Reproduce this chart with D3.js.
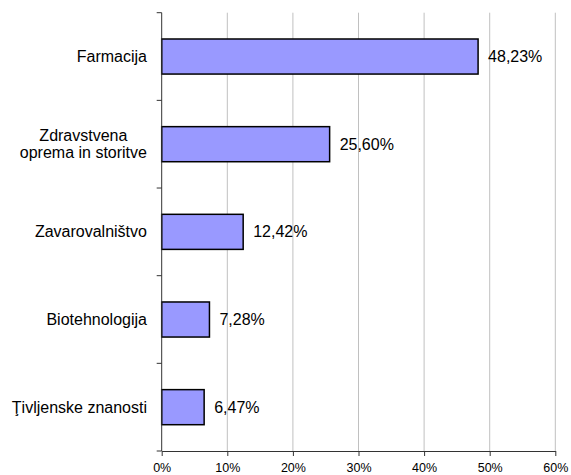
<!DOCTYPE html>
<html><head><meta charset="utf-8">
<script src="https://cdn.jsdelivr.net/npm/d3@7"></script>
<style>body{margin:0;background:#fff;} text{font-family:"Liberation Sans",Arial,sans-serif;}</style>
</head><body><svg id="c" width="571" height="475"></svg>
<script>
const categories = ["Farmacija", "Zdravstvena\noprema in storitve", "Zavarovalništvo", "Biotehnologija", "Ţivljenske znanosti"];
const values = [48.23, 25.60, 12.42, 7.28, 6.47];
const valueLabels = ["48,23%", "25,60%", "12,42%", "7,28%", "6,47%"];
const xTicks = [0, 10, 20, 30, 40, 50, 60];

(function () {
const svg = d3.select("#c");
const pL = 161.7, pR = 555.3, pT = 12.7, pB = 451;
const x = d3.scaleLinear().domain([0, 60]).range([pL, pR]);
const y = d3.scaleBand().domain(categories).range([pT, pB]).paddingInner(0.6).paddingOuter(0.3);
const yb = d3.scaleBand().domain(categories).range([pT, pB]);

// gridlines
svg.append("g").selectAll("line").data(xTicks.slice(1)).join("line")
  .attr("x1", d => x(d)).attr("x2", d => x(d)).attr("y1", pT).attr("y2", pB)
  .attr("stroke", "#c0c0c0").attr("stroke-width", 1);

// bars
svg.append("g").selectAll("rect").data(values).join("rect")
  .attr("x", x(0)).attr("y", (d, i) => y(categories[i]))
  .attr("width", d => x(d) - x(0)).attr("height", y.bandwidth())
  .attr("fill", "#9999ff").attr("stroke", "#000").attr("stroke-width", 1.5);

// value labels
svg.append("g").selectAll("text").data(values).join("text")
  .attr("x", d => x(d) + 10).attr("y", (d, i) => y(categories[i]) + y.bandwidth() / 2)
  .attr("dy", "0.35em").attr("font-size", 16).attr("fill", "#000")
  .text((d, i) => valueLabels[i]);

// x axis
const xAxis = d3.axisBottom(x).tickValues(xTicks).tickFormat(d => d + "%").tickSize(5).tickSizeOuter(0);
const gx = svg.append("g").attr("transform", `translate(0,${pB})`).call(xAxis);
gx.select(".domain").attr("stroke", "#333");
gx.selectAll(".tick line").attr("stroke", "#333");
gx.selectAll(".tick text").attr("font-size", 12.5).attr("font-family", "Liberation Sans, Arial, sans-serif")
  .attr("fill", "#000").attr("y", 17).attr("dy", "0.35em");

// y axis line and boundary ticks
svg.append("line").attr("x1", pL).attr("x2", pL).attr("y1", pT).attr("y2", pB).attr("stroke", "#333");
const bounds = categories.map(c => yb(c)).concat([pB]);
svg.append("g").selectAll("line").data(bounds).join("line")
  .attr("x1", pL - 5).attr("x2", pL).attr("y1", d => d).attr("y2", d => d).attr("stroke", "#333");

// category labels
const labelRight = 147;
categories.forEach((c, i) => {
  const lines = c.split("\n");
  const cy = yb(c) + yb.bandwidth() / 2;
  const t = svg.append("text").attr("font-size", 16).attr("fill", "#000").attr("text-anchor", "middle");
  const lh = 17;
  lines.forEach((ln, j) => {
    t.append("tspan").attr("x", 0).attr("y", cy + (j - (lines.length - 1) / 2) * lh).attr("dy", "0.35em").text(ln);
  });
  const bb = t.node().getBBox();
  t.attr("transform", `translate(${labelRight - bb.width / 2},0)`);
});
})();
</script></body></html>
